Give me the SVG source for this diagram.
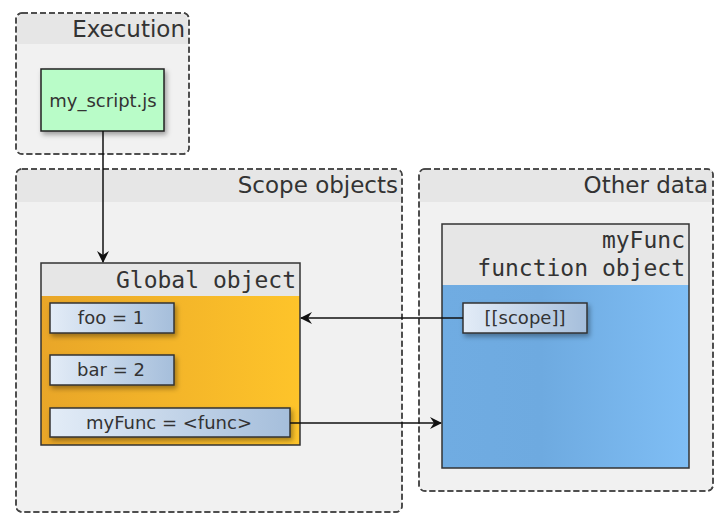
<svg xmlns="http://www.w3.org/2000/svg" width="720" height="516" viewBox="0 0 720 516">
<defs>
<linearGradient id="gOrange" x1="0" y1="0" x2="1" y2="0"><stop offset="0" stop-color="#e9a628"/><stop offset="1" stop-color="#fec42a"/></linearGradient>
<linearGradient id="gBlue" x1="0" y1="0" x2="1" y2="0"><stop offset="0" stop-color="#70ace2"/><stop offset="0.4" stop-color="#6eaae0"/><stop offset="1" stop-color="#7fbef5"/></linearGradient>
<linearGradient id="gItem" x1="0" y1="0" x2="1" y2="0"><stop offset="0" stop-color="#e3ecf7"/><stop offset="1" stop-color="#a5bedb"/></linearGradient>
<filter id="sh" x="-20%" y="-20%" width="140%" height="160%"><feDropShadow dx="2" dy="3" stdDeviation="2.5" flood-color="#000" flood-opacity="0.35"/></filter>
<marker id="arr" viewBox="0 0 12 12" refX="11" refY="6" markerWidth="12" markerHeight="12" markerUnits="userSpaceOnUse" orient="auto"><path d="M0,0 L12,6 L0,12 L4,6 Z" fill="#111"/></marker>
</defs>
<style>
.grp{fill:#f1f1f1;stroke:#444;stroke-width:1.5;stroke-dasharray:6,3}
.hdr{fill:#e6e6e6}
.gt{font-family:"DejaVu Sans",sans-serif;font-size:23px;fill:#333;text-anchor:end}
.mono{font-family:"DejaVu Sans Mono",monospace;font-size:23px;fill:#333;text-anchor:end}
.obj{stroke:#333;stroke-width:1.5}
.item{fill:url(#gItem);stroke:#333;stroke-width:1.5;filter:url(#sh)}
.it{font-family:"DejaVu Sans",sans-serif;font-size:18px;fill:#333;text-anchor:middle}
.con{stroke:#111;stroke-width:1.5;fill:none;marker-end:url(#arr)}
</style>
<g id="execution">
<rect class="grp" x="16" y="13" width="173" height="141" rx="6"/>
<path class="hdr" d="M17,27 Q17,14 23,14 L182,14 Q188,14 188,27 L188,44 L17,44 Z"/>
<rect x="16" y="13" width="173" height="141" rx="6" fill="none" stroke="#444" stroke-width="1.5" stroke-dasharray="6,3"/>
<text class="gt" x="185" y="37">Execution</text>
</g>
<g id="my_script">
<rect x="41" y="69" width="123" height="62" fill="#b9fcc8" stroke="#222" stroke-width="1.5" filter="url(#sh)"/>
<text class="it" x="103" y="107">my_script.js</text>
</g>
<g id="scope_objects">
<rect class="grp" x="16" y="169" width="386" height="343" rx="6"/>
<rect class="hdr" x="17" y="170" width="384" height="32"/>
<rect x="16" y="169" width="386" height="343" rx="6" fill="none" stroke="#444" stroke-width="1.5" stroke-dasharray="6,3"/>
<text class="gt" x="398" y="193">Scope objects</text>
</g>
<g id="other_data">
<rect class="grp" x="419" y="169" width="294" height="322" rx="6"/>
<rect class="hdr" x="420" y="170" width="292" height="32"/>
<rect x="419" y="169" width="294" height="322" rx="6" fill="none" stroke="#444" stroke-width="1.5" stroke-dasharray="6,3"/>
<text class="gt" x="708" y="193">Other data</text>
</g>
<g id="global_object">
<rect x="41" y="263" width="259" height="182" fill="url(#gOrange)"/>
<rect x="41" y="263" width="259" height="33" fill="#e6e6e6"/>
<rect class="obj" x="41" y="263" width="259" height="182" fill="none"/>
<text class="mono" x="296" y="288">Global object</text>
</g>
<g id="foo">
<rect class="item" x="50" y="303" width="124" height="30"/>
<text class="it" x="111" y="324">foo = 1</text>
</g>
<g id="bar">
<rect class="item" x="50" y="355" width="124" height="30"/>
<text class="it" x="111" y="376">bar = 2</text>
</g>
<g id="myFunc_var">
<rect class="item" x="50" y="408" width="240" height="29"/>
<text class="it" x="169" y="429">myFunc = &lt;func&gt;</text>
</g>
<g id="function_object">
<rect x="442" y="224" width="247" height="244" fill="url(#gBlue)"/>
<rect x="442" y="224" width="247" height="61" fill="#e6e6e6"/>
<rect class="obj" x="442" y="224" width="247" height="244" fill="none"/>
<text class="mono" x="685" y="248">myFunc</text>
<text class="mono" x="685" y="276">function object</text>
</g>
<g id="scope_slot">
<rect class="item" x="463" y="303" width="124" height="30"/>
<text class="it" x="525" y="324">[[scope]]</text>
</g>
<g id="connectors">
<path class="con" d="M103,131 L103,262"/>
<path class="con" d="M463,318 L301,318"/>
<path class="con" d="M290,423 L441,423"/>
</g>
</svg>
